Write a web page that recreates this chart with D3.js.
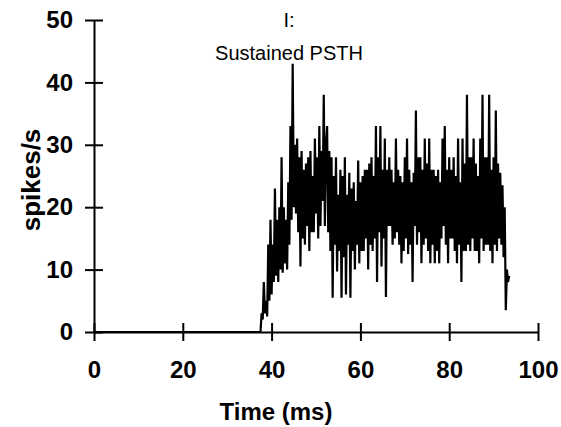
<!DOCTYPE html>
<html>
<head>
<meta charset="utf-8">
<script src="https://cdn.jsdelivr.net/npm/d3@7"></script>
<style>
  body { margin: 0; background: #fff; }
  svg { display: block; }
</style>
</head>
<body>
<div id="chart"></div>
<script>
// PSTH, 0.25 ms bins starting at 37.5 ms (silent before that)
const binStart = 37.5;
const binWidth = 0.25;
const rates = [
    0, 3, 2, 8,        3, 5, 2.5, 14,      5, 18, 6, 14,       8, 23, 9, 18,
    8, 20, 10, 28,     9.5, 20, 11, 18,    10, 24, 14, 33,     18, 43, 20, 30,
    19, 31, 16, 28,    10.5, 29, 15, 26,   14, 27, 17, 28,     13, 29, 16, 25,
    16, 31, 19, 28,    15, 33, 17, 29,     21, 38, 17, 30,     33, 16, 29, 13,
    28, 5.5, 25, 14,   28, 9.7, 22, 13,    26, 5.5, 25, 12,    28, 6, 22, 14,
    25.5, 5.5, 23, 13, 24, 10, 21, 14,     27.5, 11, 24, 13,   25, 13, 26, 15,
    26, 10, 27, 14,    28, 13, 25, 15,     33, 8, 28, 16,      33, 10.5, 26, 15,
    31, 5.6, 26, 17,   28, 17, 26, 14,     24, 15, 31, 16,     26, 14, 25, 11,
    24, 13, 28, 15,    31, 12.5, 26, 14,   24, 8, 25.5, 17,    35.5, 14, 28, 16,
    28, 11, 26, 14,    31, 15, 27, 13,     31, 11, 26, 14,     26, 11, 25, 13,
    26, 11, 24, 15,    31, 17, 33, 14,     26, 11, 28, 15,     26, 15, 28, 13,
    25, 11, 31, 14,    24, 8, 31, 13,      27, 13, 38, 14,     28, 13, 28, 15,
    31, 13, 27, 13,    25, 11, 31, 15,     38, 13, 28, 14,     28, 14, 38, 13,
    26, 11, 28, 14,    35.5, 13, 27, 15,   25.5, 14, 23.5, 12, 20, 3.5, 10, 8,
    9
];
const xTicks = [0, 20, 40, 60, 80, 100];
const yTicks = [0, 10, 20, 30, 40, 50];
const titleLines = ["I:", "Sustained PSTH"];
const xLabel = "Time (ms)";
const yLabel = "spikes/s";

const width = 561, height = 427;

const svg = d3.select("#chart")
    .append("svg")
    .attr("width", width)
    .attr("height", height);

const xScale = d3.scaleLinear().domain([0, 100]).range([94, 538]);
const yScale = d3.scaleLinear().domain([0, 50]).range([332, 20]);

let series = [{ t: 0, v: 0 }];
rates.forEach((r, i) => series.push({ t: binStart + i * binWidth, v: r }));

// data line
svg.append("path")
    .datum(series)
    .attr("fill", "none")
    .attr("stroke", "#000")
    .attr("stroke-width", 2.2)
    .attr("d", d3.line().x(d => xScale(d.t)).y(d => yScale(d.v)));

// axes, ticks cross the axis line
const xAxis = svg.append("g")
    .attr("transform", `translate(0,${yScale(0)})`)
    .call(d3.axisBottom(xScale).tickValues(xTicks).tickSizeOuter(0).tickSizeInner(9).tickPadding(20));
xAxis.selectAll(".tick line").attr("y1", -9).attr("y2", 9);

const yAxis = svg.append("g")
    .attr("transform", `translate(${xScale(0)},0)`)
    .call(d3.axisLeft(yScale).tickValues(yTicks).tickSizeOuter(0).tickSizeInner(9).tickPadding(12));
yAxis.selectAll(".tick line").attr("x1", -9).attr("x2", 9);

svg.selectAll(".domain, .tick line")
    .attr("stroke", "#000")
    .attr("stroke-width", 2);
svg.selectAll(".tick text")
    .attr("fill", "#000")
    .style("font-family", "'Liberation Sans', Arial, sans-serif")
    .style("font-weight", "bold")
    .style("font-size", "24px");

// labels
svg.append("text")
    .attr("x", 276)
    .attr("y", 420)
    .attr("text-anchor", "middle")
    .style("font-family", "'Liberation Sans', Arial, sans-serif")
    .style("font-weight", "bold")
    .style("font-size", "24px")
    .text(xLabel);

svg.append("text")
    .attr("transform", "translate(40,180) rotate(-90)")
    .attr("text-anchor", "middle")
    .style("font-family", "'Liberation Sans', Arial, sans-serif")
    .style("font-weight", "bold")
    .style("font-size", "26px")
    .text(yLabel);

titleLines.forEach((s, i) => {
    svg.append("text")
        .attr("x", 289)
        .attr("y", 27 + i * 33)
        .attr("text-anchor", "middle")
        .style("font-family", "'Liberation Sans', Arial, sans-serif")
        .style("font-size", "20px")
        .text(s);
});
</script>
</body>
</html>
